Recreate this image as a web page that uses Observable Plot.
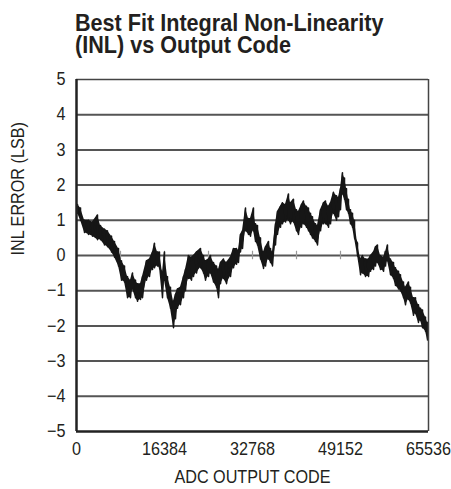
<!DOCTYPE html>
<html>
<head>
<meta charset="utf-8">
<script src="https://cdn.jsdelivr.net/npm/d3@7"></script>
<script src="https://cdn.jsdelivr.net/npm/@observablehq/plot@0.6"></script>
<style>
  html, body { margin: 0; padding: 0; background: #fff; }
  #wrap { width: 451px; height: 489px; position: relative; overflow: hidden; }
  #title { position: absolute; left: 75px; top: 12px; font-family: "Liberation Sans", Arial, sans-serif;
           font-weight: bold; font-size: 24px; line-height: 22px; color: #231f20; white-space: nowrap;
           transform: scaleX(0.9); transform-origin: 0 0; }
  #chart { position: absolute; left: 0; top: 62px; }
</style>
</head>
<body>
<div id="wrap">
  <div id="title">Best Fit Integral Non-Linearity<br>(INL) vs Output Code</div>
  <div id="chart"></div>
</div>
<script>
const titleText = "Best Fit Integral Non-Linearity (INL) vs Output Code";
const xLabel = "ADC OUTPUT CODE";
const yLabel = "INL ERROR (LSB)";
const xTicks = [0, 16384, 32768, 49152, 65536];
const yTicks = [-5, -4, -3, -2, -1, 0, 1, 2, 3, 4, 5];
const gridLevels = [-4, -3, -2, -1, 0, 1, 2, 3, 4];
const zeroMarks = [8192, 16384, 24576, 32768, 40960, 49152, 57344];

// ADC output codes where the INL band was read
const codes = [190,750,1490,2230,2980,3910,4470,5210,5770,6520,
  7080,7820,8380,8940,9500,10050,10430,10990,11360,11920,
  12290,13030,13590,14150,14520,15080,15450,16010,16380,16940,
  17500,18060,18430,18800,19360,19920,20290,20850,21410,21780,
  22340,23090,23650,24020,24580,24950,25510,26070,26440,26810,
  27370,27930,28670,29230,29790,30160,30530,30910,31470,32020,
  32400,32950,33330,33700,34260,34820,35190,35750,36120,36490,
  37050,37420,37980,38350,38910,39470,39840,40400,40960,41330,
  41890,42260,42820,43190,43570,43940,44500,44870,45430,45990,
  46360,46920,47290,47850,48410,48780,49150,49520,49900,50270,
  50640,51010,51390,51760,52320,52880,53250,53810,54370,54740,
  55300,55670,56040,56600,57160,57530,57900,58460,59020,59390,
  59950,60320,60880,61250,61810,62190,62740,63120,63670,64050,
  64420,64980,65350];

// upper edge of the noisy INL band (LSB)
const inlHigh = [1.45,1.35,1.0,1.0,0.95,1.15,0.85,0.75,0.7,0.55,
  0.4,0.2,-0.15,-0.3,-0.6,-0.7,-0.5,-0.7,-0.8,-0.8,
  -0.6,-0.15,-0.1,0.1,0.35,0.1,0.1,-0.5,0.1,-0.6,
  -0.9,-1.3,-1.1,-0.95,-0.9,-0.6,-0.4,0.0,-0.05,0.0,
  0.1,0.2,0.0,-0.15,-0.1,0.0,-0.2,-0.3,-0.4,-0.2,
  -0.1,-0.2,-0.05,0.2,0.2,0.15,0.6,0.7,1.35,1.05,
  1.05,1.35,0.9,0.85,0.5,0.1,0.25,0.4,0.2,0.1,
  0.9,1.25,1.4,1.5,1.45,1.75,1.5,1.6,1.3,1.25,
  1.45,1.55,1.4,1.35,1.2,1.1,0.9,0.85,1.3,1.5,
  1.55,1.4,1.5,1.8,1.7,1.65,1.9,2.35,2.2,1.9,
  1.6,1.3,1.2,1.0,0.35,-0.1,0.0,-0.1,-0.1,0.0,
  0.1,0.25,0.3,0.0,-0.05,0.1,0.3,-0.1,-0.2,-0.35,
  -0.45,-0.55,-0.75,-0.9,-0.75,-0.9,-1.2,-1.2,-1.4,-1.5,
  -1.55,-1.75,-1.9];

// lower edge of the noisy INL band (LSB)
const inlLow = [1.2,1.0,0.65,0.6,0.55,0.45,0.45,0.3,0.25,0.1,
  -0.05,-0.3,-0.7,-0.75,-1.2,-1.2,-0.95,-1.2,-1.3,-1.25,
  -1.2,-0.7,-0.6,-0.4,-0.35,-0.3,-0.35,-1.2,-0.7,-1.2,
  -1.5,-2.05,-1.8,-1.5,-1.4,-1.2,-1.0,-0.65,-0.7,-0.6,
  -0.5,-0.35,-0.5,-0.7,-0.6,-0.5,-0.75,-0.9,-1.2,-0.8,
  -0.65,-0.8,-0.6,-0.35,-0.25,-0.2,0.1,0.2,0.7,0.6,
  0.55,0.7,0.4,0.3,-0.1,-0.37,-0.3,-0.1,-0.2,-0.3,
  0.3,0.6,0.8,0.9,0.95,1.0,0.9,0.95,0.7,0.6,
  0.8,0.9,0.8,0.7,0.6,0.5,0.4,0.3,0.7,0.9,
  0.9,0.8,0.9,1.2,1.0,1.1,1.3,1.75,1.6,1.3,
  1.2,0.9,0.8,0.5,0.0,-0.55,-0.5,-0.6,-0.6,-0.45,
  -0.4,-0.3,-0.2,-0.4,-0.45,-0.3,-0.15,-0.55,-0.65,-0.85,
  -0.95,-1.0,-1.2,-1.4,-1.25,-1.35,-1.7,-1.65,-1.9,-1.85,
  -2.05,-2.15,-2.4];

const band = codes.map((c, i) => ({code: c, hi: inlHigh[i], lo: inlLow[i]}));
const zigzag = [];
band.forEach(d => { zigzag.push({code: d.code, v: d.hi}); zigzag.push({code: d.code, v: d.lo}); });

const font = '"Liberation Sans", Arial, sans-serif';

const chart = Plot.plot({
  width: 451,
  height: 427,
  marginTop: 17,
  marginBottom: 58,
  marginLeft: 76,
  marginRight: 23,
  style: {fontFamily: font, fontSize: "18px", color: "#231f20", background: "#fff"},
  x: {domain: [0, 65536], ticks: xTicks, tickFormat: d => String(d), tickSize: 0, tickPadding: 11, label: null},
  y: {domain: [-5, 5], ticks: yTicks, tickSize: 0, tickPadding: 11, label: null},
  marks: [
    Plot.ruleY(gridLevels, {stroke: "#555", strokeWidth: 2}),
    Plot.ruleX(zeroMarks, {y1: -0.12, y2: 0.12, stroke: "#999", strokeWidth: 1.2}),
    Plot.areaY(band, {x: "code", y1: "lo", y2: "hi", fill: "#161616"}),
    Plot.line(zigzag, {x: "code", y: "v", stroke: "#161616", strokeWidth: 1.5}),
    Plot.ruleY([5], {stroke: "#444", strokeWidth: 1.5}),
    Plot.ruleX([65536], {stroke: "#444", strokeWidth: 1.5}),
    Plot.ruleY([-5], {stroke: "#222", strokeWidth: 2.5}),
    Plot.ruleX([0], {stroke: "#222", strokeWidth: 2.5}),
    Plot.text([yLabel], {text: d => d, frameAnchor: "left", dx: -58, rotate: -90, fontSize: 18, fill: "#231f20"}),
    Plot.text([xLabel], {text: d => d, frameAnchor: "bottom", dy: 51, lineAnchor: "bottom", fontSize: 18, fill: "#231f20"})
  ]
});
// condense all texts horizontally (narrow face look)
chart.querySelectorAll("text").forEach(t => {
  const tr = t.getAttribute("transform");
  t.setAttribute("transform", (tr ? tr + " " : "") + "scale(0.9,1)");
});
chart.setAttribute("aria-label", titleText);
document.getElementById("chart").appendChild(chart);
</script>
</body>
</html>
